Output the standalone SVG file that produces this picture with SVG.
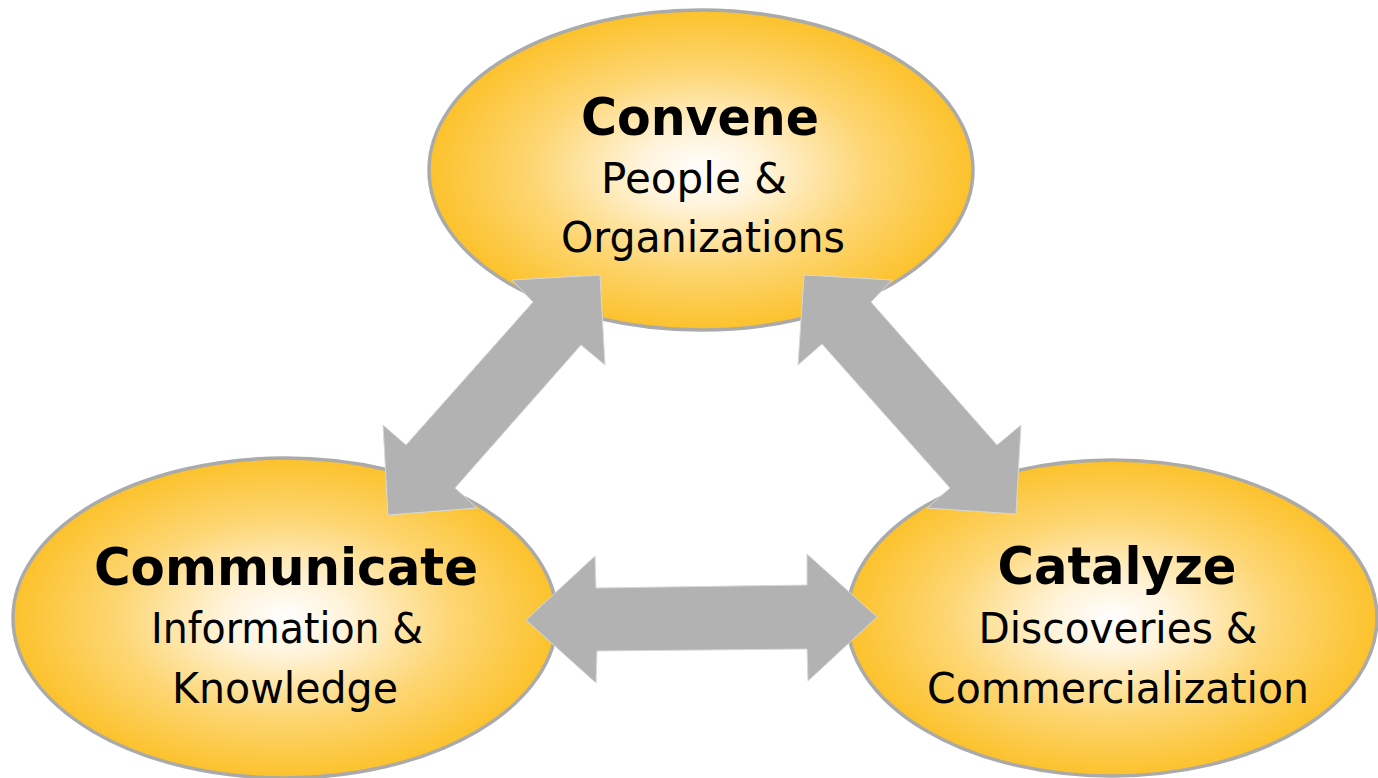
<svg xmlns="http://www.w3.org/2000/svg" width="1378" height="778" viewBox="0 0 1378 778">
  <style>
    .node { stroke: #aaaaaa; stroke-width: 3.5; fill: url(#gold); }
    .title { font-family: "DejaVu Sans", Tahoma, sans-serif; font-weight: bold; font-size: 52px; fill: #000; text-anchor: middle; }
    .sub { font-family: "DejaVu Sans", Tahoma, sans-serif; font-size: 43px; fill: #000; text-anchor: middle; }
    .arrow { fill: #b2b2b2; stroke: #d8d8d8; stroke-width: 1; stroke-linejoin: miter; }
  </style>
  <defs>
    <radialGradient id="gold" cx="0.5" cy="0.5" r="0.5">
      <stop offset="0" stop-color="#ffffff"/>
      <stop offset="0.22" stop-color="#fff4dc"/>
      <stop offset="0.62" stop-color="#fdd673"/>
      <stop offset="1" stop-color="#fcc22c"/>
    </radialGradient>
  </defs>

  <g id="node-convene">
    <ellipse class="node" cx="701" cy="170" rx="272" ry="160"/>
    <text class="title" x="700" y="135" textLength="238" lengthAdjust="spacingAndGlyphs">Convene</text>
    <text class="sub" x="694" y="193" textLength="186" lengthAdjust="spacingAndGlyphs">People &amp;</text>
    <text class="sub" x="703" y="252" textLength="284" lengthAdjust="spacingAndGlyphs">Organizations</text>
  </g>

  <g id="node-communicate">
    <ellipse class="node" cx="285" cy="618" rx="272" ry="160"/>
    <text class="title" x="286" y="585" textLength="384" lengthAdjust="spacingAndGlyphs">Communicate</text>
    <text class="sub" x="287" y="643" textLength="272" lengthAdjust="spacingAndGlyphs">Information &amp;</text>
    <text class="sub" x="285" y="703" textLength="226" lengthAdjust="spacingAndGlyphs">Knowledge</text>
  </g>

  <g id="node-catalyze">
    <ellipse class="node" cx="1112" cy="618" rx="265" ry="158"/>
    <text class="title" x="1117" y="584" textLength="239" lengthAdjust="spacingAndGlyphs">Catalyze</text>
    <text class="sub" x="1118" y="643" textLength="279" lengthAdjust="spacingAndGlyphs">Discoveries &amp;</text>
    <text class="sub" x="1118" y="703" textLength="382" lengthAdjust="spacingAndGlyphs">Commercialization</text>
  </g>

  <g id="connectors">
    <polygon class="arrow" points="512,280 600,275 605,365 581,345 455,488 477,508 388,515 383,425 406,445 533,302"/>
    <polygon class="arrow" points="804,275 892,280 871,302 997,445 1021,425 1016,514 927,508 950,488 822,344 798,365"/>
    <polygon class="arrow" points="526,620 595,556 596,588 807,585 807,554 877,617 808,681 807,649 597,651 596,683"/>
  </g>
</svg>
